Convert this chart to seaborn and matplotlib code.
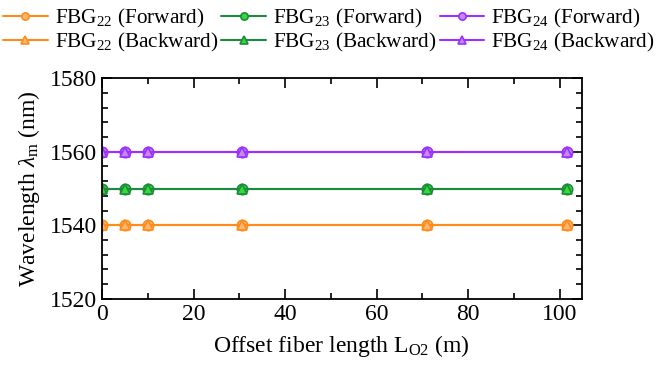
import matplotlib
matplotlib.use("Agg")
import matplotlib.pyplot as plt
import seaborn as sns
import pandas as pd
from matplotlib.ticker import MultipleLocator

sns.set_theme(style="ticks")
plt.rcParams['font.family'] = ['Liberation Serif', 'DejaVu Serif']
plt.rcParams['mathtext.fontset'] = 'custom'
plt.rcParams['mathtext.rm'] = 'Liberation Serif'
plt.rcParams['mathtext.it'] = 'Liberation Serif:italic'
plt.rcParams['text.color'] = 'black'
plt.rcParams['axes.labelcolor'] = 'black'
plt.rcParams['xtick.color'] = 'black'
plt.rcParams['ytick.color'] = 'black'

offset = [0, 5, 10, 30.5, 71, 101.5]
fbg22_fwd = [1540, 1540, 1540, 1540, 1540, 1540]
fbg22_bwd = [1540, 1540, 1540, 1540, 1540, 1540]
fbg23_fwd = [1550, 1550, 1550, 1550, 1550, 1550]
fbg23_bwd = [1550, 1550, 1550, 1550, 1550, 1550]
fbg24_fwd = [1560, 1560, 1560, 1560, 1560, 1560]
fbg24_bwd = [1560, 1560, 1560, 1560, 1560, 1560]

series = [
    ("FBG$_{22}$ (Forward)", fbg22_fwd, "o", "#FF8C1A", "#FFB878"),
    ("FBG$_{22}$ (Backward)", fbg22_bwd, "^", "#FF8C1A", "#FFB878"),
    ("FBG$_{23}$ (Forward)", fbg23_fwd, "o", "#1E8A3E", "#33DD33"),
    ("FBG$_{23}$ (Backward)", fbg23_bwd, "^", "#1E8A3E", "#33DD33"),
    ("FBG$_{24}$ (Forward)", fbg24_fwd, "o", "#9B30FF", "#C08AF0"),
    ("FBG$_{24}$ (Backward)", fbg24_bwd, "^", "#9B30FF", "#C08AF0"),
]

fig = plt.figure(figsize=(6.58, 3.65), dpi=100)
ax = fig.add_axes([0.155, 0.181, 0.729, 0.605])

handles = []
for label, vals, mk, col, fill in series:
    df = pd.DataFrame({"x": offset, "y": vals})
    sns.lineplot(data=df, x="x", y="y", ax=ax, color=col, marker=mk,
                 markersize=7.5, markerfacecolor=fill, markeredgecolor=col,
                 markeredgewidth=1.2, linewidth=1.5, label=label, legend=False)
    handles.append(ax.lines[-1])

ax.set_xlim(0, 104.8)
ax.set_ylim(1520, 1580)
ax.xaxis.set_major_locator(MultipleLocator(20))
ax.xaxis.set_minor_locator(MultipleLocator(10))
ax.yaxis.set_major_locator(MultipleLocator(20))
ax.yaxis.set_minor_locator(MultipleLocator(4))
ax.tick_params(which='both', direction='in', top=True, right=True, colors='black',
               labelsize=17, width=1.2)
ax.tick_params(which='major', length=7)
ax.tick_params(which='minor', length=4)
for s in ax.spines.values():
    s.set_linewidth(1.3)
    s.set_color('black')
ax.set_xlabel("Offset fiber length L$_{\\mathrm{O2}}$ (m)", fontsize=17, color='black',
              labelpad=6)
ax.set_ylabel("Wavelength $\\lambda_{\\mathrm{m}}$ (nm)", fontsize=17, color='black',
              labelpad=6)

leg = fig.legend(handles=handles, labels=[s[0] for s in series], loc='upper center',
                 bbox_to_anchor=(0.5, 1.01), ncol=3, frameon=False, fontsize=15.3,
                 handlelength=2.1, columnspacing=0.15, handletextpad=0.33,
                 labelspacing=0.05, borderaxespad=0.1, markerscale=0.7)
for t in leg.get_texts():
    t.set_color('black')

fig.savefig("out.png", dpi=100)
